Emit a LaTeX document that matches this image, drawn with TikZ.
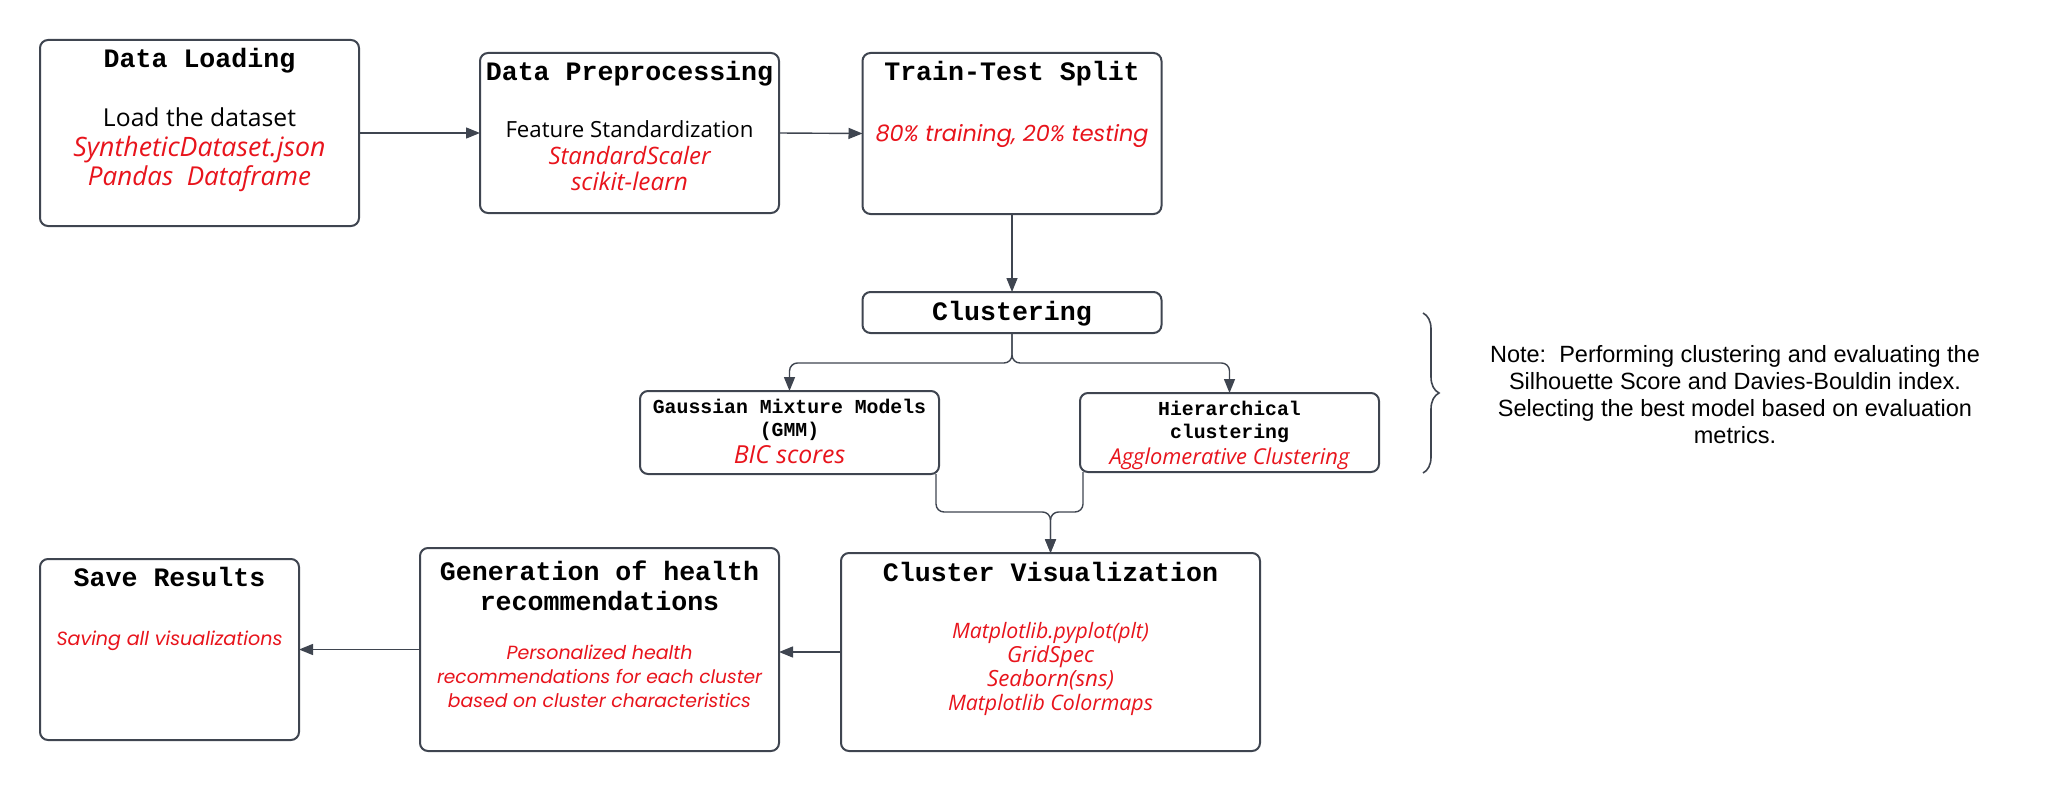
\documentclass[tikz,border=0pt]{standalone}
\usepackage{graphicx}
\usepackage{fontspec}
\setmainfont{Liberation Sans}
\newfontfamily\monob{Liberation Mono}
\newfontfamily\intf{Open Sans}
\newfontfamily\popf{Poppins}
\newcommand\fitw[2]{\resizebox{#1pt}{!}{#2}}
\usetikzlibrary{arrows.meta,decorations.pathreplacing}
\definecolor{edge}{HTML}{3F4550}
\definecolor{redtxt}{HTML}{E8141C}
\tikzset{
  box/.style={draw=edge, line width=2pt, rounded corners=8pt, fill=white, inner sep=0pt, outer sep=0pt},
  ttl/.style={inner sep=0pt, text height=16pt, text depth=0pt, font=\monob\bfseries\fontsize{26.6}{30}\selectfont},
  sttl/.style={inner sep=0pt, text height=12pt, text depth=0pt, font=\monob\bfseries\fontsize{19.8}{23}\selectfont},
  blk/.style={inner sep=0pt, text height=#1, text depth=0pt, font=\intf\fontsize{22}{26}\selectfont},
  blk/.default=16pt,
  redi/.style={inner sep=0pt, text height=#1, text depth=0pt, text=redtxt, font=\intf\itshape\fontsize{20}{24}\selectfont},
  redi/.default=15pt,
  redp/.style={inner sep=0pt, text height=#1, text depth=0pt, text=redtxt, font=\popf\itshape\fontsize{20}{24}\selectfont},
  redp/.default=14pt,
  arr/.style={draw=edge, line width=1.4pt, -{Triangle[length=14pt,width=11pt]}},
  note/.style={inner sep=0pt, text height=16pt, text depth=0pt, font=\fontsize{23.5}{27}\selectfont}
}
\begin{document}
\begin{tikzpicture}[x=1pt,y=-1pt]
\useasboundingbox (0,0) rectangle (2060,792);
% boxes
\node[box, minimum width=319pt, minimum height=186pt] (dl) at (199.5,133) {};
\node[box, minimum width=299pt, minimum height=160pt] (dp) at (629.5,133) {};
\node[box, minimum width=299pt, minimum height=161pt] (tt) at (1012,133.5) {};
\node[box, minimum width=299pt, minimum height=41pt] (cl) at (1012,312.5) {};
\node[box, minimum width=299pt, minimum height=83pt] (gmm) at (789.5,432.5) {};
\node[box, minimum width=299pt, minimum height=79pt] (hier) at (1229.5,432.5) {};
\node[box, minimum width=419pt, minimum height=198pt] (cv) at (1050.5,652) {};
\node[box, minimum width=359pt, minimum height=203pt] (gh) at (599.5,649.5) {};
\node[box, minimum width=259pt, minimum height=181pt] (sr) at (169.5,649.5) {};
% texts
\node[ttl] (dlt) at (199.5,59) {Data Loading};
\node[blk=17pt] (dl1) at (199.5,118) {\fitw{193}{Load the dataset}};
\node[redi=17pt] (dl2) at (199.5,147.5) {\fitw{252}{SyntheticDataset.json}};
\node[redi=17pt] (dl3) at (199.5,177) {\fitw{223}{Pandas\ \ Dataframe}};
\node[ttl] (dpt) at (629.5,72) {Data Preprocessing};
\node[blk=15pt] (dp1) at (629.5,129.5) {\fitw{248}{Feature Standardization}};
\node[redi=15pt] (dp2) at (629.5,156.5) {\fitw{162}{StandardScaler}};
\node[redi=15pt] (dp3) at (629.5,183) {\fitw{117}{scikit-learn}};
\node[ttl] (ttt) at (1012,73) {Train-Test Split};
\node[redp=16pt] (tt1) at (1012,133) {\fitw{273}{80\% training, 20\% testing}};
\node[ttl] (clt) at (1012,312.5) {Clustering};
\node[sttl] (gmt1) at (789.5,407) {Gaussian Mixture Models};
\node[sttl] (gmt2) at (789.5,430) {(GMM)};
\node[redi] (gm1) at (789.5,456) {\fitw{111.5}{BIC scores}};
\node[sttl] (hit1) at (1229.5,409) {Hierarchical};
\node[sttl] (hit2) at (1229.5,432) {clustering};
\node[redi] (hi1) at (1229.5,457) {\fitw{240}{Agglomerative Clustering}};
\node[ttl] (cvt) at (1050.5,573) {Cluster Visualization};
\node[redi=14pt] (cv1) at (1050.5,631) {\fitw{197}{Matplotlib.pyplot(plt)}};
\node[redi=14pt] (cv2) at (1050.5,655) {\fitw{87}{GridSpec}};
\node[redi=14pt] (cv3) at (1050.5,679) {\fitw{127}{Seaborn(sns)}};
\node[redi=14pt] (cv4) at (1050.5,703) {\fitw{205}{Matplotlib Colormaps}};
\node[ttl] (ght1) at (599.5,572) {Generation of health};
\node[ttl] (ght2) at (599.5,602) {recommendations};
\node[redp] (gh1) at (599.5,652) {\fitw{186}{Personalized health}};
\node[redp] (gh2) at (599.5,676) {\fitw{325}{recommendations for each cluster}};
\node[redp] (gh3) at (599.5,700) {\fitw{303}{based on cluster characteristics}};
\node[ttl] (srt) at (169.5,578) {Save Results};
\node[redp] (sr1) at (169.5,638) {\fitw{226}{Saving all visualizations}};
% note
\node[note] (n1) at (1735,354) {Note:\ \ Performing clustering and evaluating the};
\node[note] (n2) at (1735,381) {Silhouette Score and Davies-Bouldin index.};
\node[note] (n3) at (1735,408) {Selecting the best model based on evaluation};
\node[note] (n4) at (1735,435) {metrics.};
\draw[edge, line width=1.6pt, decorate, decoration={brace, amplitude=16pt, aspect=0.5}] (1423,313) -- (1423,473);
% connectors
\draw[arr] (dl.east) -- (dp.west);
\draw[arr] (dp.east) -- (tt.west);
\draw[arr] (tt.south) -- (cl.north);
\coordinate (br) at (1012,363);
\draw[arr, rounded corners=8pt] (cl.south) -- (br) -| (gmm.north);
\draw[arr, rounded corners=8pt] (cl.south) -- (br) -| (hier.north);
\coordinate (mg) at (1050.5,512);
\draw[arr, rounded corners=8pt] ([xshift=-3pt]gmm.south east) |- (mg) -- (cv.north);
\draw[arr, rounded corners=8pt] ([xshift=3pt]hier.south west) |- (mg) -- (cv.north);
\draw[arr] (cv.west) -- (cv.west -| gh.east);
\draw[arr] (gh.west) -- (gh.west -| sr.east);
\end{tikzpicture}
\end{document}
